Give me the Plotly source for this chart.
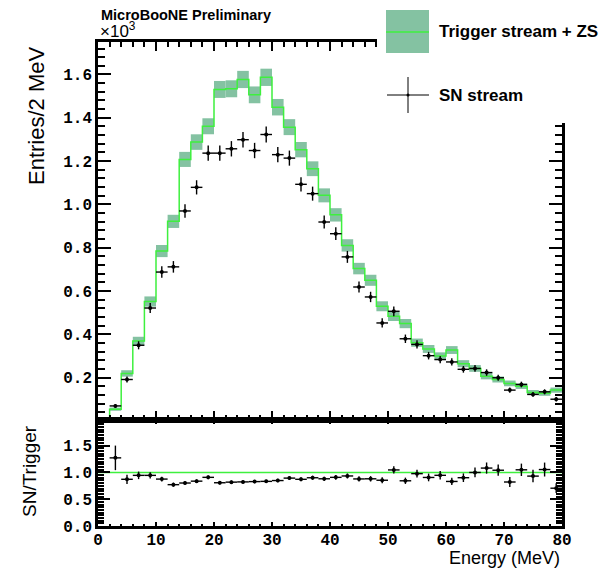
import numpy as np
import plotly.graph_objects as go

# ---------------- data (values in units of 10^3 entries per 2 MeV) ----------------
bin_centers = [1, 3, 5, 7, 9, 11, 13, 15, 17, 19, 21, 23, 25, 27, 29, 31, 33, 35, 37, 39,
               41, 43, 45, 47, 49, 51, 53, 55, 57, 59, 61, 63, 65, 67, 69, 71, 73, 75, 77, 79]
bin_edges = [0, 2, 4, 6, 8, 10, 12, 14, 16, 18, 20, 22, 24, 26, 28, 30, 32, 34, 36, 38, 40,
             42, 44, 46, 48, 50, 52, 54, 56, 58, 60, 62, 64, 66, 68, 70, 72, 74, 76, 78, 80]
trigger_zs = [0.005, 0.055, 0.220, 0.370, 0.552, 0.785, 0.922, 1.208, 1.288, 1.361,
              1.531, 1.534, 1.577, 1.506, 1.587, 1.449, 1.357, 1.253, 1.165, 1.042,
              0.952, 0.811, 0.704, 0.650, 0.530, 0.484, 0.450, 0.362, 0.333, 0.300,
              0.328, 0.265, 0.243, 0.207, 0.192, 0.174, 0.161, 0.132, 0.128, 0.143]
sn_stream = [np.nan, 0.070, 0.192, 0.350, 0.522, 0.688, 0.712, 0.970, 1.079, 1.237,
             1.237, 1.257, 1.299, 1.249, 1.323, 1.230, 1.214, 1.093, 1.050, 0.919,
             0.865, 0.758, 0.619, 0.573, 0.453, 0.507, 0.380, 0.354, 0.302, 0.284,
             0.273, 0.239, 0.243, 0.224, 0.200, 0.143, 0.169, 0.123, 0.135, 0.101]
x_tick_vals = [0, 10, 20, 30, 40, 50, 60, 70, 80]
scale = 1000.0

trig = np.array(trigger_zs)
sn = np.array(sn_stream, dtype=float)
trig_err = np.sqrt(trig * scale) / scale
sn_err = np.sqrt(sn * scale) / scale
half_w = [1.0] * len(bin_centers)
ratio = sn / trig
ratio_err = ratio * np.sqrt(1.0 / (sn * scale) + 1.0 / (trig * scale))

BAND = "#84c2a2"
LINE = "#3ef03e"
TICKFONT = dict(family="Liberation Mono", size=16, color="black", weight="bold")

fig = go.Figure()

# statistical band of the trigger stream
fig.add_trace(go.Bar(x=bin_centers, y=list(2 * trig_err), base=list(trig - trig_err), width=2,
                     marker=dict(color=BAND, line=dict(width=0)), xaxis="x", yaxis="y",
                     showlegend=False, hoverinfo="skip"))
# step line
fig.add_trace(go.Scatter(x=bin_edges, y=list(trig) + [trig[-1]], mode="lines",
                         line=dict(color=LINE, width=1.5, shape="hv"), xaxis="x", yaxis="y",
                         showlegend=False))
# SN stream points
fig.add_trace(go.Scatter(x=bin_centers, y=sn, mode="markers",
                         marker=dict(color="black", size=4),
                         error_x=dict(type="data", array=half_w, width=0, thickness=1.4, color="black"),
                         error_y=dict(type="data", array=list(sn_err), width=0, thickness=1.4, color="black"),
                         xaxis="x", yaxis="y", showlegend=False))
# ratio panel
fig.add_trace(go.Scatter(x=[bin_edges[0], bin_edges[-1]], y=[1, 1], mode="lines",
                         line=dict(color=LINE, width=1.5), xaxis="x2", yaxis="y2", showlegend=False))
fig.add_trace(go.Scatter(x=bin_centers, y=ratio, mode="markers",
                         marker=dict(color="black", size=4),
                         error_x=dict(type="data", array=half_w, width=0, thickness=1.4, color="black"),
                         error_y=dict(type="data", array=list(ratio_err), width=0, thickness=1.4, color="black"),
                         xaxis="x2", yaxis="y2", showlegend=False))

split = 0.219
common = dict(showgrid=False, zeroline=False, showline=True, linecolor="black", linewidth=2.5,
              ticks="inside", tickcolor="black", tickwidth=2, mirror="allticks", tickfont=TICKFONT)

fig.update_layout(
    width=611, height=569,
    margin=dict(l=98, r=49, t=42, b=43),
    paper_bgcolor="white", plot_bgcolor="white",
    barmode="overlay",
    xaxis=dict(domain=[0, 1], anchor="y", range=[0, 80], tickvals=x_tick_vals, showticklabels=False,
               ticklen=9, minor=dict(dtick=2, tick0=0, ticklen=5, ticks="inside", tickcolor="black", tickwidth=1.5),
               **common),
    yaxis=dict(domain=[split, 1], anchor="x", range=[0.005, 1.75], dtick=0.2, tick0=0, tickformat=".1f",
               ticklen=13, minor=dict(dtick=0.04, tick0=0, ticklen=7, ticks="inside", tickcolor="black", tickwidth=1.5),
               **common),
    xaxis2=dict(domain=[0, 1], anchor="y2", range=[0, 80], tickvals=x_tick_vals, ticklabelstandoff=-3,
                ticklen=4, minor=dict(dtick=2, tick0=0, ticklen=2, ticks="inside", tickcolor="black", tickwidth=1.5),
                **common),
    yaxis2=dict(domain=[0, split], anchor="x2", range=[0, 1.98], dtick=0.5, tick0=0, tickformat=".1f",
                ticklen=12, minor=dict(dtick=0.05, tick0=0, ticklen=6, ticks="inside", tickcolor="black", tickwidth=1.5),
                **common),
)

W = 611 - 98 - 49
H = 569 - 42 - 43
def px(xp):
    return (xp - 98) / W
def py(yp):
    return (526 - yp) / H

shapes = [
    # legend background covering the frame corner
    dict(type="rect", xref="paper", yref="paper", x0=px(377), x1=px(611), y0=py(123), y1=py(0),
         fillcolor="white", line=dict(width=0), layer="above"),
    dict(type="rect", xref="paper", yref="paper", x0=px(386), x1=px(429), y0=py(53), y1=py(10),
         fillcolor=BAND, line=dict(width=0), layer="above"),
    dict(type="line", xref="paper", yref="paper", x0=px(386), x1=px(429), y0=py(32), y1=py(32),
         line=dict(color=LINE, width=1.5), layer="above"),
    dict(type="line", xref="paper", yref="paper", x0=px(387), x1=px(429), y0=py(95), y1=py(95),
         line=dict(color="black", width=1), layer="above"),
    dict(type="line", xref="paper", yref="paper", x0=px(408), x1=px(408), y0=py(77), y1=py(113),
         line=dict(color="black", width=1), layer="above"),
    dict(type="circle", xref="paper", yref="paper", x0=px(406.5), x1=px(409.5), y0=py(96.5), y1=py(93.5),
         fillcolor="black", line=dict(width=0), layer="above"),
]
fig.update_layout(shapes=shapes)

SANS = "Liberation Sans"
ann = [
    dict(text="Entries/2 MeV", x=px(36), y=py(45), xanchor="center", yanchor="top", textangle=-90,
         font=dict(family=SANS, size=22, color="black")),
    dict(text="SN/Trigger", x=px(29), y=py(471), xanchor="center", yanchor="middle", textangle=-90,
         font=dict(family=SANS, size=19, color="black")),
    dict(text="Energy (MeV)", x=1.0, y=py(558), xanchor="right", yanchor="middle",
         font=dict(family=SANS, size=18, color="black")),
    dict(text="MicroBooNE Preliminary", x=px(99), y=py(15), xanchor="left", yanchor="middle",
         font=dict(family=SANS, size=14.5, color="black", weight="bold")),
    dict(text="×10<sup>3</sup>", x=px(98), y=py(43), xanchor="left", yanchor="bottom",
         font=dict(family=SANS, size=17, color="black")),
    dict(text="Trigger stream + ZS", x=px(437), y=py(32), xanchor="left", yanchor="middle",
         font=dict(family=SANS, size=17, color="black", weight="bold")),
    dict(text="SN stream", x=px(437), y=py(96), xanchor="left", yanchor="middle",
         font=dict(family=SANS, size=17, color="black", weight="bold")),
]
for a in ann:
    a.update(xref="paper", yref="paper", showarrow=False)
fig.update_layout(annotations=ann)

fig.write_html("out.html", config={"displayModeBar": False},
               post_script="document.body.style.margin='0';")
